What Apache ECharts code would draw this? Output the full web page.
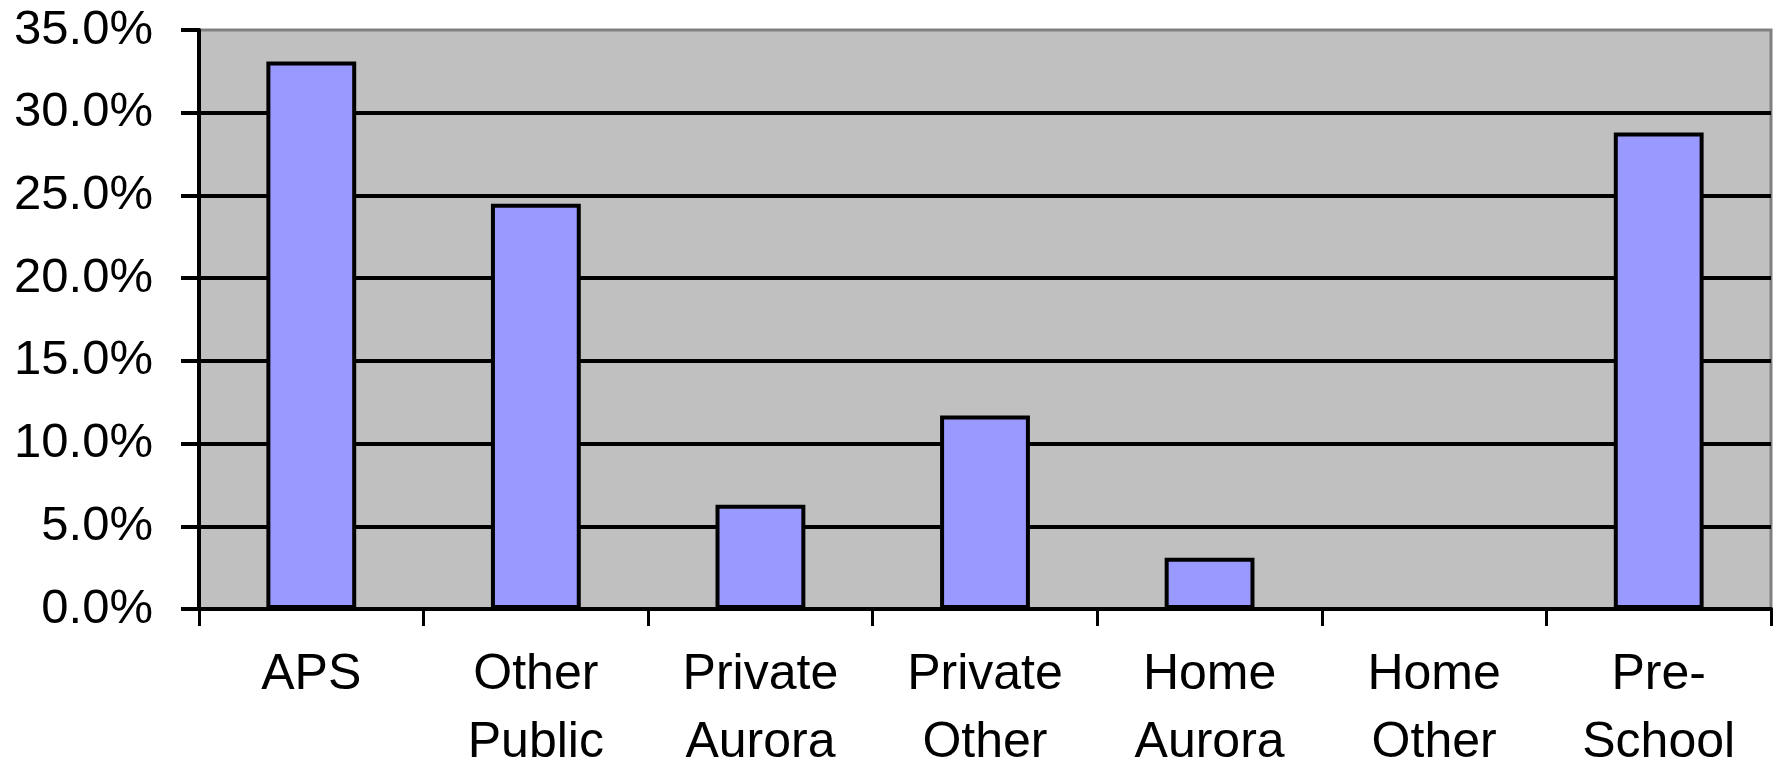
<!DOCTYPE html>
<html>
<head>
<meta charset="utf-8">
<script src="https://cdn.jsdelivr.net/npm/echarts@6/dist/echarts.min.js"></script>
<style>
html,body{margin:0;padding:0;background:#fff;}
#chart{width:1777px;height:764px;}
</style>
</head>
<body>
<div id="chart"></div>
<script>
const categories = ['APS', 'Other\nPublic', 'Private\nAurora', 'Private\nOther', 'Home\nAurora', 'Home\nOther', 'Pre-\nSchool'];
const values = [33.1, 24.5, 6.3, 11.7, 3.1, 0, 28.8];
const yTicks = { min: 0, max: 35, interval: 5 };

const FONT = "'Liberation Sans', Arial, sans-serif";
const chart = echarts.init(document.getElementById('chart'));
chart.setOption({
  animation: false,
  backgroundColor: '#ffffff',
  grid: {
    left: 199, right: 6, top: 30, bottom: 155,
    containLabel: false,
    outerBoundsMode: 'none',
    show: true,
    backgroundColor: '#C0C0C0',
    borderColor: '#808080',
    borderWidth: 3
  },
  xAxis: {
    type: 'category',
    data: categories,
    axisLine: { show: true, lineStyle: { color: '#000', width: 4 } },
    axisTick: { show: true, length: 17, lineStyle: { color: '#000', width: 3 } },
    axisLabel: {
      color: '#000', fontFamily: FONT, fontSize: 50, lineHeight: 68, margin: 32, interval: 0
    },
    splitLine: { show: false }
  },
  yAxis: {
    type: 'value',
    min: yTicks.min, max: yTicks.max, interval: yTicks.interval,
    axisLine: { show: true, lineStyle: { color: '#000', width: 4 } },
    axisTick: { show: true, length: 18, lineStyle: { color: '#000', width: 4 } },
    axisLabel: {
      color: '#000', fontFamily: FONT, fontSize: 49, margin: 46,
      formatter: v => v.toFixed(1) + '%'
    },
    splitLine: { show: true, showMaxLine: false, showMinLine: false, lineStyle: { color: '#000', width: 4 } }
  },
  series: [{
    type: 'bar',
    data: values,
    barWidth: '40%',
    itemStyle: { color: '#9999FF', borderColor: '#000', borderWidth: 4 }
  }]
});
</script>
</body>
</html>
